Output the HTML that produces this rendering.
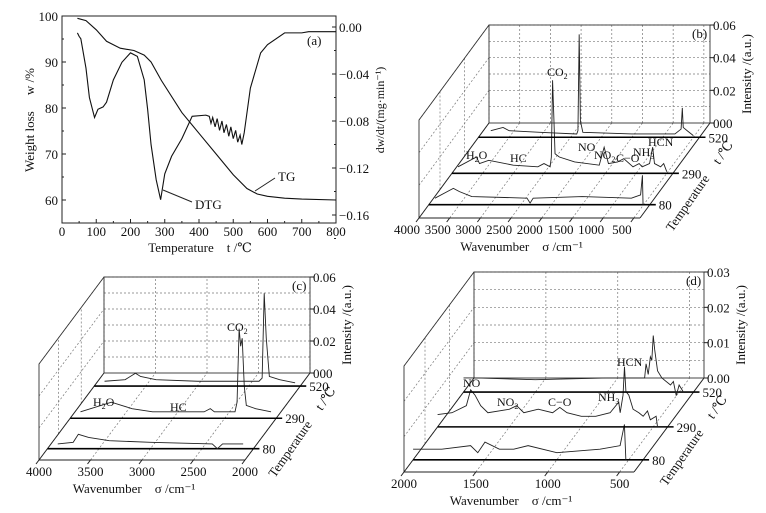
<!DOCTYPE html>
<html><head><meta charset="utf-8"><style>
body{margin:0;background:#fff}
svg{display:block;font-family:"Liberation Serif","DejaVu Serif",serif;}
text{fill:#111;white-space:pre}
</style></head><body>
<svg id="fig" width="766" height="513" viewBox="0 0 766 513" xmlns="http://www.w3.org/2000/svg"></svg>
<script>
// ---------- Panel (a) data ----------
const tgTemp = [45,70,100,130,170,210,240,260,290,350,400,450,500,540,570,600,650,700,800];
const tgVal  = [99.5,99,97,94.5,93,92.5,91.5,90,86,79,74.5,70,65.5,62.5,61.3,60.8,60.4,60.2,60];
const dtgTemp = [45,50,55,70,80,95,105,120,130,150,175,200,220,240,250,260,275,288,300,320,350,380,420,430,435,440,447,453,460,467,473,480,487,493,500,507,513,520,525,532,550,570,580,600,650,700,720,800];
const dtgVal  = [-0.005,-0.008,-0.01,-0.035,-0.06,-0.077,-0.07,-0.068,-0.064,-0.045,-0.03,-0.022,-0.025,-0.045,-0.07,-0.1,-0.13,-0.147,-0.125,-0.11,-0.095,-0.076,-0.075,-0.076,-0.082,-0.077,-0.085,-0.078,-0.088,-0.08,-0.09,-0.083,-0.093,-0.085,-0.095,-0.088,-0.098,-0.092,-0.1,-0.09,-0.052,-0.032,-0.022,-0.015,-0.005,-0.005,-0.004,-0.004];
const aXTicks = [0,100,200,300,400,500,600,700,800];
const aYTicks = [60,70,80,90,100];
const aY2Ticks = [0,-0.04,-0.08,-0.12,-0.16];
const aY2Labels = ["0.00","\u22120.04","\u22120.08","\u22120.12","\u22120.16"];

// ---------- Panel (b) data ----------
const bTemps = ["80","290","520"];
const bW80  = [3900,3700,3600,3500,3300,2400,2350,2300,1500,700,550,520,510];
const bI80  = [0.004,0.008,0.01,0.008,0.005,0.004,0.001,0.004,0.005,0.004,0.006,0.018,0.0];
const bW290 = [3900,3600,3550,3400,3000,2600,2500,2400,2380,2360,2340,2320,2250,2000,1600,1520,1450,1300,1200,1050,950,900,780,730,700,600,550,500];
const bI290 = [0.004,0.01,0.006,0.008,0.005,0.004,0.006,0.004,0.01,0.057,0.035,0.012,0.01,0.007,0.005,0.016,0.006,0.007,0.009,0.004,0.006,0.004,0.006,0.016,0.006,0.004,0.006,0.001];
const bW520 = [3800,3600,3500,3000,2400,2380,2360,2340,2300,1500,1000,800,700,680,665,600,500];
const bI520 = [0.004,0.006,0.004,0.003,0.002,0.004,0.063,0.01,0.003,0.002,0.002,0.002,0.005,0.018,0.006,0.004,0.001];
const bXTicks = [4000,3500,3000,2500,2000,1500,1000,500];
const bITicks = [0,0.02,0.04,0.06];
const bILabels = ["000","0.02","0.04","0.06"];

// ---------- Panel (c) data ----------
const cW80  = [3900,3750,3700,3600,3400,3000,2400,2350,2300,2100];
const cI80  = [0.003,0.004,0.009,0.007,0.005,0.004,0.003,0.0,0.003,0.003];
const cW290 = [3900,3600,3500,3400,3200,2700,2640,2600,2400,2380,2360,2345,2330,2310,2290,2200,2050];
const cI290 = [0.004,0.01,0.008,0.006,0.004,0.004,0.006,0.004,0.004,0.01,0.056,0.045,0.05,0.02,0.008,0.006,0.004];
const cW520 = [3900,3700,3600,3550,3400,3000,2400,2370,2350,2330,2300,2200,2050];
const cI520 = [0.003,0.004,0.008,0.006,0.004,0.003,0.003,0.005,0.058,0.03,0.006,0.004,0.002];
const cXTicks = [4000,3500,3000,2500,2000];
const cITicks = [0,0.02,0.04,0.06];
const cILabels = ["000","0.02","0.04","0.06"];

// ---------- Panel (d) data ----------
const dW80  = [2000,1800,1600,1550,1500,1400,1300,1200,1000,700,560,530,520];
const dI80  = [0.003,0.003,0.004,0.002,0.005,0.003,0.003,0.004,0.002,0.003,0.004,0.01,0.0];
const dW290 = [2000,1900,1800,1770,1740,1700,1650,1500,1450,1400,1300,1200,1150,1100,1000,900,800,740,730,710,700,690,670,640,600,570,540,520,480,470];
const dI290 = [0.0035,0.004,0.006,0.0105,0.009,0.006,0.004,0.005,0.006,0.004,0.005,0.004,0.0055,0.004,0.003,0.003,0.004,0.007,0.004,0.009,0.017,0.01,0.009,0.005,0.004,0.003,0.0045,0.002,0.003,0.0];
const dW520 = [2000,1900,1500,1000,800,740,730,715,700,690,680,670,650,620,560,540,520,500,470];
const dI520 = [0.004,0.004,0.0035,0.004,0.004,0.004,0.008,0.005,0.01,0.009,0.016,0.012,0.006,0.004,0.002,0.003,-0.001,0.002,0.0];
const dXTicks = [2000,1500,1000,500];
const dITicks = [0,0.01,0.02,0.03];
const dILabels = ["0.00","0.01","0.02","0.03"];

const NS="http://www.w3.org/2000/svg";
const svg=document.getElementById('fig');
function el(tag,attrs,parent,txt){const e=document.createElementNS(NS,tag);for(const k in attrs)e.setAttribute(k,attrs[k]);if(txt!==undefined)e.textContent=txt;(parent||svg).appendChild(e);return e;}
function line(x1,y1,x2,y2,p,extra){return el('line',Object.assign({x1,y1,x2,y2,stroke:'#222','stroke-width':1},extra||{}),p);}

// ================= Panel (a) =================
(function(){
  const g=el('g',{});
  
  
  const L=62,R=336,T=16;
  const xS=t=>L+t/800*(R-L);
  const yS=w=>T+(100-w)*4.6;
  const y2S=v=>27+(-v)*1175;
  const frame=el('rect',{x:L,y:T,width:R-L,height:223-T,fill:'none',stroke:'#222','stroke-width':1},g);
  
  
  aXTicks.forEach(t=>{line(xS(t),223,xS(t),219,g);
    const tx=el('text',{x:xS(t),y:236,'font-size':13,'text-anchor':'middle'},g,String(t));
    
    
    if(t<800)line(xS(t+50),223,xS(t+50),221,g);});
  aYTicks.forEach(w=>{line(L,yS(w),L+4,yS(w),g);
    const tx=el('text',{x:L-4,y:yS(w)+5,'font-size':13,'text-anchor':'end'},g,String(w));
    
    
    line(L,yS(w-5),L+2,yS(w-5),g);});
  aY2Ticks.forEach((v,i)=>{line(R,y2S(v),R-4,y2S(v),g);line(R,y2S(v-0.02),R-2,y2S(v-0.02),g);
    const tx=el('text',{x:R+3,y:y2S(v)+5,'font-size':13},g,aY2Labels[i]);
    
    });
  const tg=el('polyline',{points:tgTemp.map((t,i)=>xS(t)+','+yS(tgVal[i])).join(' '),fill:'none',stroke:'#111','stroke-width':1.1},g);
  
  
  const dtg=el('polyline',{points:dtgTemp.map((t,i)=>xS(t)+','+y2S(dtgVal[i])).join(' '),fill:'none',stroke:'#111','stroke-width':1.1},g);
  
  
  line(163,190,192,202,g);line(255,191,275,178,g);
  const l1=el('text',{x:195,y:209,'font-size':13},g,'DTG');
  
  
  const l2=el('text',{x:278,y:181,'font-size':13},g,'TG');
  
  
  const pa=el('text',{x:307,y:45,'font-size':13},g,'(a)');
  
  
  const xt=el('text',{x:200,y:252,'font-size':13,'text-anchor':'middle'},g,'Temperature    t /\u2103');
  
  
  const yt=el('text',{x:0,y:0,'font-size':13,'text-anchor':'middle',transform:'translate(34,120) rotate(-90)'},g,'Weight loss     w /%');
  
  
  const y2t=el('text',{x:0,y:0,'font-size':12,'text-anchor':'middle',transform:'translate(384,110) rotate(-90)'},g,'dw/dt/(mg\u00b7min\u207b\u00b9)');
  
  
})();

// ================= 3D panels =================
function panel3d(name,P,series,ann){
  const g=el('g',{});
  
  
  const X=(w,d)=>P.x0+(P.wMax-w)/(P.wMax-P.wMin)*(P.x1-P.x0)+d*P.dx;
  const Y=(i,d)=>P.yf+d*P.dy-i/P.iMax*P.H;
  const dash={stroke:'#777','stroke-width':0.7,'stroke-dasharray':'2,2'};
  const bx0=P.x0+P.dx,bx1=P.x1+P.dx,by=P.yf+P.dy;
  P.xTicks.forEach(w=>{line(X(w,1),by,X(w,1),by-P.H,g,dash);line(X(w,0),P.yf,X(w,1),by,g,dash);});
  for(let k=1;k<=6;k++){const yy=by-P.H*k/6;line(bx0,yy,bx1,yy,g,dash);}
  for(let k=1;k<=3;k++){const yy=P.yf-P.H*k/3;line(P.x0,yy,bx0,yy+P.dy,g,dash);}
  [0.3,0.65].forEach(d=>line(X(P.wMax,d),Y(0,d),X(P.wMax,d),Y(0,d)-P.H,g,dash));
  const fr={stroke:'#333','stroke-width':0.9,fill:'none'};
  el('rect',Object.assign({x:bx0,y:by-P.H,width:bx1-bx0,height:P.H},fr),g);
  el('polyline',Object.assign({points:`${P.x0},${P.yf} ${P.x0},${P.yf-P.H} ${bx0},${by-P.H}`},fr),g);
  line(P.x0,P.yf,bx0,by,g);line(P.x0,P.yf,P.x1,P.yf,g);line(P.x1,P.yf,bx1,by,g);
  P.xTicks.forEach(w=>{line(X(w,0),P.yf,X(w,0)-3,P.yf+4,g);
    const t=el('text',{x:X(w,0)-P.lblShift,y:P.yf+16,'font-size':13,'text-anchor':'middle'},g,String(w));
    
    });
  P.iTicks.forEach((v,i)=>{line(bx1,Y(v,1),bx1+4,Y(v,1),g);
    const t=el('text',{x:bx1+3,y:Y(v,1)+5,'font-size':13},g,P.iLabels[i]);
    
    });
  series.forEach(s=>{
    const bl=line(X(P.wMax,s.d),Y(0,s.d),X(P.wMin,s.d)+6,Y(0,s.d),g,{stroke:'#000','stroke-width':1.6});
    
    
    const pl=el('polyline',{points:s.w.map((w,i)=>X(w,s.d)+','+Y(s.i[i],s.d)).join(' '),fill:'none',stroke:'#222','stroke-width':0.9},g);
    
    
    const tx=el('text',{x:X(P.wMin,s.d)+9,y:Y(0,s.d)+5,'font-size':13},g,s.t);
    
    
  });
  ann.forEach(a=>{
    const t=el('text',{x:a[1],y:a[2],'font-size':12},g,a[0]);
    if(a[3]){el('tspan',{'font-size':8,dy:3},t,a[3]);}
    if(a[4]){el('tspan',{'font-size':12,dy:-3},t,a[4]);}
    
    
  });
  const pl=el('text',{x:bx1-18,y:by-P.H+13,'font-size':13},g,P.tag);
  
  
  const xt=el('text',{x:(P.x0+P.x1)/2-8,y:P.yf+33,'font-size':13,'text-anchor':'middle'},g,'Wavenumber    \u03c3 /cm\u207b\u00b9');
  
  
  const it=el('text',{x:0,y:0,'font-size':13,'text-anchor':'middle',transform:`translate(${bx1+41},${by-P.H/2}) rotate(-90)`},g,'Intensity /(a.u.)');
  
  
  const tt=el('text',{x:0,y:0,'font-size':13,'text-anchor':'middle',transform:`translate(${P.x1+P.dx*0.5+28},${P.yf+P.dy*0.5+18}) rotate(-55)`},g,'Temperature     t /\u2103');
  
  
}

panel3d('panel-b-ftir',{x0:419,x1:640,yf:218,dx:70,dy:-95,H:98,wMax:4000,wMin:400,iMax:0.06,xTicks:bXTicks,iTicks:bITicks,iLabels:bILabels,tag:'(b)',lblShift:12},
 [{t:'80',d:0.14,w:bW80,i:bI80},{t:'290',d:0.47,w:bW290,i:bI290},{t:'520',d:0.85,w:bW520,i:bI520}],
 [['CO',547,76,'2'],['H',466,159,'2','O'],['HC',510,162],['NO',578,151],['NO',594,159,'2'],['C\u2212O',616,162],['NH',633,156,'3'],['HCN',648,146]]);
panel3d('panel-c-ftir',{x0:39,x1:245,yf:460,dx:65,dy:-87,H:96,wMax:4000,wMin:2000,iMax:0.06,xTicks:cXTicks,iTicks:cITicks,iLabels:cILabels,tag:'(c)',lblShift:0},
 [{t:'80',d:0.13,w:cW80,i:cI80},{t:'290',d:0.48,w:cW290,i:cI290},{t:'520',d:0.85,w:cW520,i:cI520}],
 [['CO',227,331,'2'],['H',93,406,'2','O'],['HC',170,411]]);
panel3d('panel-d-ftir',{x0:404,x1:634,yf:472,dx:70,dy:-94,H:106,wMax:2000,wMin:400,iMax:0.03,xTicks:dXTicks,iTicks:dITicks,iLabels:dILabels,tag:'(d)',lblShift:0},
 [{t:'80',d:0.13,w:dW80,i:dI80},{t:'290',d:0.48,w:dW290,i:dI290},{t:'520',d:0.85,w:dW520,i:dI520}],
 [['NO',463,387],['NO',497,406,'2'],['C\u2212O',548,406],['NH',598,401,'3'],['HCN',617,366]]);
</script>
</body></html>
